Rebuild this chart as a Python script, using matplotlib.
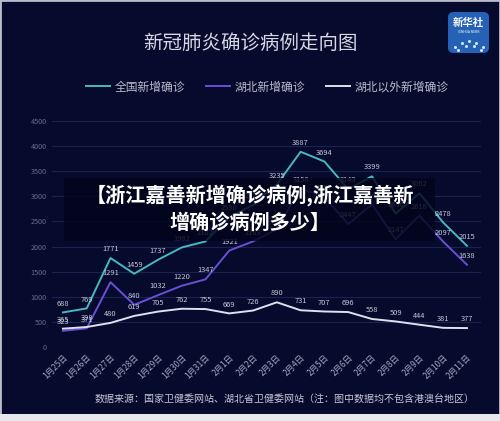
import numpy as np
import matplotlib
matplotlib.use('Agg')
import matplotlib.pyplot as plt
from matplotlib.patches import FancyBboxPatch, Rectangle
from matplotlib.lines import Line2D

plt.rcParams['font.family'] = ['Noto Sans CJK SC', 'DejaVu Sans']

# data
dates = ['1月25日', '1月26日', '1月27日', '1月28日', '1月29日', '1月30日',
         '1月31日', '2月1日', '2月2日', '2月3日', '2月4日', '2月5日',
         '2月6日', '2月7日', '2月8日', '2月9日', '2月10日', '2月11日']
national = [688, 769, 1771, 1459, 1737, 1982, 2102, 2590, 2829, 3235,
            3887, 3694, 3143, 3399, 2656, 3062, 2478, 2015]
hubei = [323, 371, 1291, 840, 1032, 1220, 1347, 1921, 2103, 2345,
         3156, 2987, 2447, 2841, 2147, 2618, 2097, 1638]
outside = [365, 398, 480, 619, 705, 762, 755, 669, 726, 890,
           731, 707, 696, 558, 509, 444, 381, 377]
series_names = ['全国新增确诊', '湖北新增确诊', '湖北以外新增确诊']
yticks = [0, 500, 1000, 1500, 2000, 2500, 3000, 3500, 4000, 4500]

bg = '#060a2c'
colors = ['#46b9c0', '#6a4fd6', '#dfe0ee']
label_col = '#c3c6d6'

W, H = 500, 421
fig = plt.figure(figsize=(W / 100, H / 100), dpi=100)
fig.patch.set_facecolor(bg)

ax = fig.add_axes([52 / W, (H - 347) / H, 429 / W, 226 / H])
ax.set_facecolor(bg)
x = np.arange(len(dates))
for vals, col in zip([national, hubei, outside], colors):
    ax.plot(x, vals, color=col, lw=1.4, clip_on=False, zorder=3)
    for xi, v in zip(x, vals):
        ax.annotate(str(v), (xi, v), xytext=(0, 3.5), textcoords='offset points',
                    ha='center', va='bottom', fontsize=5.4, color=label_col, zorder=4)

ax.set_xlim(-0.46, 17.59)
ax.set_ylim(0, 4500)
ax.set_yticks(yticks)
ax.set_xticks(x)
ax.set_xticklabels(dates, rotation=45, ha='right', rotation_mode='anchor',
                   fontsize=6, color='#a3a8c2')
ax.tick_params(axis='y', labelsize=5.2, colors='#666d90', length=0, pad=4)
ax.tick_params(axis='x', length=0, pad=4)
ax.grid(axis='y', color='#1a2250', lw=0.8)
for s in ax.spines.values():
    s.set_visible(False)

# title, legend, footer
fig.text(0.5, 1 - 43 / H, '新冠肺炎确诊病例走向图', ha='center', va='center',
         fontsize=14, color='#d6d8e6')
handles = [Line2D([], [], color=c, lw=1.4) for c in colors]
fig.legend(handles, series_names, loc='center', bbox_to_anchor=(0.535, 1 - 87 / H),
           ncol=3, frameon=False, fontsize=8.5, labelcolor='#b9bccd',
           handlelength=2.0, handletextpad=0.4, columnspacing=1.8)
fig.text(285 / W, 1 - 399 / H,
         '数据来源：国家卫健委网站、湖北省卫健委网站（注：图中数据均不包含港澳台地区）',
         ha='center', va='center', fontsize=7.2, color='#c6c8d6')

# overlay banner
fig.patches.append(Rectangle((64 / W, 1 - 241 / H), 371 / W, 63 / H,
                             transform=fig.transFigure, facecolor='#02041a',
                             alpha=0.82, zorder=5))
fig.text(250 / W, 1 - 209 / H, '【浙江嘉善新增确诊病例,浙江嘉善新\n增确诊病例多少】',
         ha='center', va='center', fontsize=14.5, fontweight='bold',
         color='white', linespacing=1.25, zorder=6)

# logo
fig.patches.append(FancyBboxPatch((448 / W, 1 - 53 / H), 41 / W, 41 / H,
                                  boxstyle='round,pad=0,rounding_size=0.012',
                                  transform=fig.transFigure, facecolor='#2561b4',
                                  edgecolor='none', zorder=5))
fig.text(468.5 / W, 1 - 23 / H, '新华社', ha='center', va='center', fontsize=7.5,
         color='white', fontweight='bold', zorder=6)
fig.text(468.5 / W, 1 - 32 / H, 'XINHUA NEWS', ha='center', va='center', fontsize=2.3,
         color='white', zorder=6)
dots_x = [455, 462, 469, 476, 483, 458, 466, 474, 481]
dots_y = [47, 43, 41, 43, 47, 50, 46, 46, 50]
fig.lines.append(Line2D([d / W for d in dots_x], [1 - d / H for d in dots_y],
                        transform=fig.transFigure, ls='none', marker='o',
                        ms=1.2, color='#cfe6ff', zorder=6))

# frame
fig.patches.append(Rectangle((0, 0), 1, 1, transform=fig.transFigure,
                             facecolor='none', edgecolor='#b8bccb', lw=2, zorder=7))
fig.patches.append(Rectangle((0, 0), 1, 7 / H, transform=fig.transFigure,
                             facecolor='#e6e8ee', edgecolor='none', zorder=7))

fig.savefig('out.png', dpi=100, facecolor=fig.get_facecolor())
